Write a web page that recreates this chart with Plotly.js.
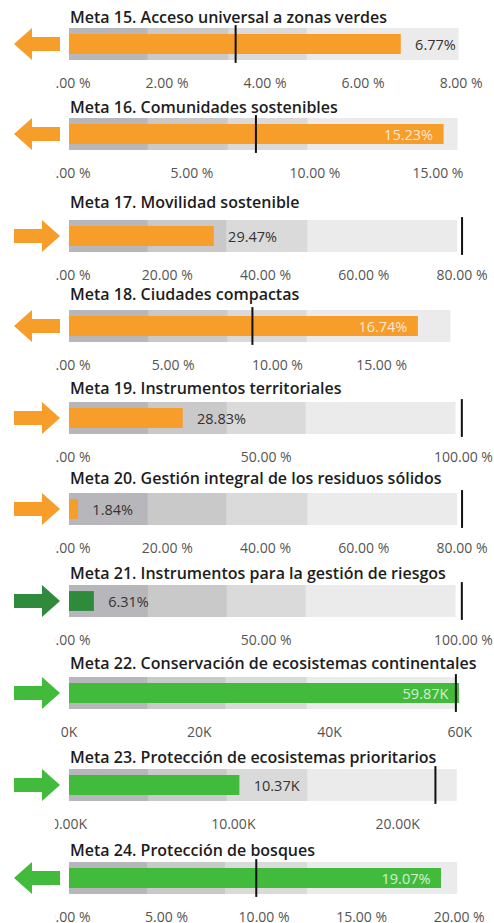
<!DOCTYPE html>
<html>
<head>
<meta charset="utf-8">
<script src="https://cdn.plot.ly/plotly-3.0.1.min.js"></script>
<style>
  html, body { margin: 0; padding: 0; background: #fff; }
  #graph { width: 494px; height: 923px; }
</style>
</head>
<body>
<div id="graph"></div>
<script>
// bullet charts - metas 15 a 24

var titles = [
  'Meta 15. Acceso universal a zonas verdes',
  'Meta 16. Comunidades sostenibles',
  'Meta 17. Movilidad sostenible',
  'Meta 18. Ciudades compactas',
  'Meta 19. Instrumentos territoriales',
  'Meta 20. Gestión integral de los residuos sólidos',
  'Meta 21. Instrumentos para la gestión de riesgos',
  'Meta 22. Conservación de ecosistemas continentales',
  'Meta 23. Protección de ecosistemas prioritarios',
  'Meta 24. Protección de bosques'
];
var values  = [6.77, 15.23, 29.47, 16.74, 28.83, 1.84, 6.31, 59.87, 10.37, 19.07];
var targets = [3.4, 7.6, 80, 8.8, 99.6, 80, 99.6, 59.4, 22.3, 9.6];
var axisMax = [8.08, 16.1, 80.6, 19, 100.4, 80.6, 100.4, 60.8, 24.1, 20.3];
var tickStep = [2, 5, 20, 5, 50, 20, 50, 20, 10, 5];
var band1 = [1.6, 3.2, 16, 3.8, 20, 16, 20, 12, 4.8, 4];
var band2 = [3.25, 6.45, 32, 7.6, 40, 32, 40, 24, 9.6, 8];
var band3 = [4.85, 9.7, 48.5, 11.4, 60, 48.5, 60, 36.5, 14.5, 12.2];
var band4 = [7.95, 15.8, 79, 18.3, 98, 79, 98, 59.6, 23.6, 19.9];
var units = ['%', '%', '%', '%', '%', '%', '%', 'K', 'K', '%'];
var trend = ['left', 'left', 'right', 'left', 'right', 'right', 'right', 'right', 'right', 'left'];
var levels = ['orange', 'orange', 'orange', 'orange', 'orange', 'orange', 'darkgreen', 'green', 'green', 'green'];

// look
var colorOf = {orange: '#f79d2a', darkgreen: '#2f8a3c', green: '#42bb3d'};
var bandColors = ['#ebebeb', '#dadada', '#c9c9c9', '#b7b7bb'];
var labelInside = [false, true, false, true, false, false, false, true, false, true];
var tickFormat = ['.2f', '.2f', '.2f', '.2f', '.2f', '.2f', '.2f', 'd', '.2f', '.2f'];
var bandTop = [28, 118, 220, 310, 402, 493, 585, 677, 769, 862];
var titleY = [17, 107, 202, 294, 388, 478, 573, 663, 757, 850];

var W = 494, H = 923, BAND_H = 32;
function py(p) { return 1 - p / H; }

var data = [];
var shapes = [];
var annotations = [];

var layout = {
  width: W,
  height: H,
  margin: {l: 0, r: 0, t: 0, b: 0},
  paper_bgcolor: '#ffffff',
  plot_bgcolor: 'rgba(0,0,0,0)',
  showlegend: false,
  hovermode: false,
  barmode: 'overlay',
  font: {family: 'Open Sans, sans-serif', color: '#444'}
};

for (var i = 0; i < titles.length; i++) {
  var n = i === 0 ? '' : String(i + 1);
  var xa = 'x' + n, ya = 'y' + n;
  var y0px = bandTop[i], y1px = y0px + BAND_H;
  var col = colorOf[levels[i]];

  layout['xaxis' + n] = {
    domain: [69 / W, 465 / W],
    anchor: ya,
    range: [0, axisMax[i]],
    tick0: 0,
    dtick: tickStep[i],
    tickformat: tickFormat[i],
    ticksuffix: units[i] === '%' ? ' %' : 'K',
    showgrid: false,
    zeroline: false,
    showline: false,
    ticks: '',
    ticklabelstandoff: 13,
    tickfont: {size: 14, color: '#555'},
    fixedrange: true
  };
  layout['yaxis' + n] = {
    domain: [py(y1px), py(y0px)],
    anchor: xa,
    range: [-0.5, 0.5],
    visible: false,
    fixedrange: true
  };

  // grey qualitative bands, widest first
  var bands = [band4[i], band3[i], band2[i], band1[i]];
  for (var b = 0; b < bands.length; b++) {
    data.push({
      type: 'bar', orientation: 'h',
      x: [bands[b]], y: [0], width: [1],
      xaxis: xa, yaxis: ya,
      marker: {color: bandColors[b], line: {width: 0}},
      textposition: 'none'
    });
  }

  // actual value
  var tpl = labelInside[i]
    ? '%{x:.2f}' + units[i] + '\u00a0\u00a0'
    : '\u00a0\u00a0\u00a0%{x:.2f}' + units[i];
  data.push({
    type: 'bar', orientation: 'h',
    x: [values[i]], y: [0], width: [0.62],
    xaxis: xa, yaxis: ya,
    marker: {color: col, line: {width: 0}},
    texttemplate: tpl,
    textposition: labelInside[i] ? 'inside' : 'outside',
    insidetextanchor: 'end',
    constraintext: 'none',
    cliponaxis: false,
    insidetextfont: {size: 14.5, color: 'rgba(255,255,255,0.78)'},
    outsidetextfont: {size: 14.5, color: '#333'}
  });

  // target
  data.push({
    type: 'scatter', mode: 'markers',
    x: [targets[i]], y: [0],
    xaxis: xa, yaxis: ya,
    cliponaxis: false,
    marker: {symbol: 'line-ns-open', size: 27, color: '#111', line: {width: 2, color: '#111'}}
  });

  // title
  annotations.push({
    xref: 'paper', yref: 'paper',
    x: 68 / W, y: py(titleY[i]),
    xanchor: 'left', yanchor: 'middle',
    text: titles[i], showarrow: false,
    font: {size: 16, color: '#1d1d1d', weight: 600}
  });

  // trend arrow
  var path = trend[i] === 'right'
    ? 'M-23,-7 L5,-7 L5,-16 L23,0 L5,16 L5,7 L-23,7 Z'
    : 'M23,-7 L-5,-7 L-5,-16 L-23,0 L-5,16 L-5,7 L23,7 Z';
  shapes.push({
    type: 'path', xref: 'paper', yref: 'paper',
    xsizemode: 'pixel', ysizemode: 'pixel',
    xanchor: 37 / W, yanchor: py(y0px + BAND_H / 2),
    path: path,
    fillcolor: col, line: {width: 0}
  });

  // the visual cuts the first tick label on the left
  shapes.push({
    type: 'rect', xref: 'paper', yref: 'paper', layer: 'above',
    x0: 0, x1: 55 / W,
    y0: py(y1px + 35), y1: py(y1px + 12),
    fillcolor: '#ffffff', line: {width: 0}
  });
}

layout.shapes = shapes;
layout.annotations = annotations;

Plotly.newPlot('graph', data, layout, {displayModeBar: false, staticPlot: true});
</script>
</body>
</html>
